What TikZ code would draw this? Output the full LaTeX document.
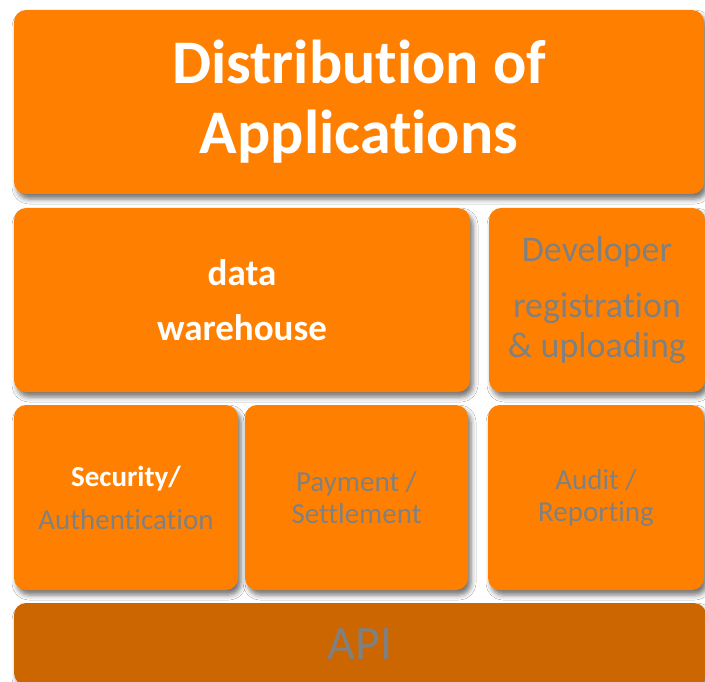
\documentclass[tikz,border=0pt]{standalone}
\usepackage{fontspec}
\setmainfont{Carlito}[Ligatures=NoCommon]
\usepackage{xcolor}
\usetikzlibrary{shadows.blur}

\definecolor{panelorange}{RGB}{255,128,0}
\definecolor{apiorange}{RGB}{204,102,0}
\definecolor{labelgray}{RGB}{128,128,128}

\tikzset{
  panel/.style={rounded corners=12pt, fill=panelorange, inner sep=0pt, align=center,
    blur shadow={shadow xshift=3pt, shadow yshift=-5pt, shadow blur radius=5pt,
      shadow opacity=55}},
  graytext/.style={text=labelgray, font=\fontsize{29}{32}\selectfont},
}

\begin{document}
\begin{tikzpicture}[x=1pt,y=-1pt]
  \fill[white] (0,0) rectangle (705,682);
  \useasboundingbox (0,0) rectangle (705,682);
  % top row
  \node[panel, minimum width=690pt, minimum height=184pt, text=white,
        font=\fontsize{62}{70}\selectfont\bfseries] (distrib) at (359,102)
        {Distribution of\\Applications};
  % middle row
  \node[panel, minimum width=456pt, minimum height=184pt, text=white,
        font=\fontsize{37}{55}\selectfont\bfseries] (warehouse) at (242,300)
        {data\\warehouse};
  \node[panel, minimum width=216pt, minimum height=184pt, text=labelgray,
        font=\fontsize{36}{40}\selectfont] (developer) at (597,300)
        {Developer\\[16pt]registration\\\& uploading};
  % lower row
  \node[panel, minimum width=224pt, minimum height=185pt,
        font=\fontsize{29}{43}\selectfont] (security) at (126,497.5)
        {\textcolor{white}{\bfseries Security/}\\\textcolor{labelgray}{Authentication}};
  \node[panel, graytext, minimum width=223pt, minimum height=185pt] (payment) at (356.5,497.5)
        {Payment /\\Settlement};
  \node[panel, graytext, minimum width=216pt, minimum height=185pt] (audit) at (596,497.5)
        {Audit /\\Reporting};
  % base layer
  \node[panel, fill=apiorange, text=labelgray, minimum width=692pt, minimum height=82pt,
        font=\fontsize{48}{56}\selectfont] (api) at (360,644) {API};
\end{tikzpicture}
\end{document}
